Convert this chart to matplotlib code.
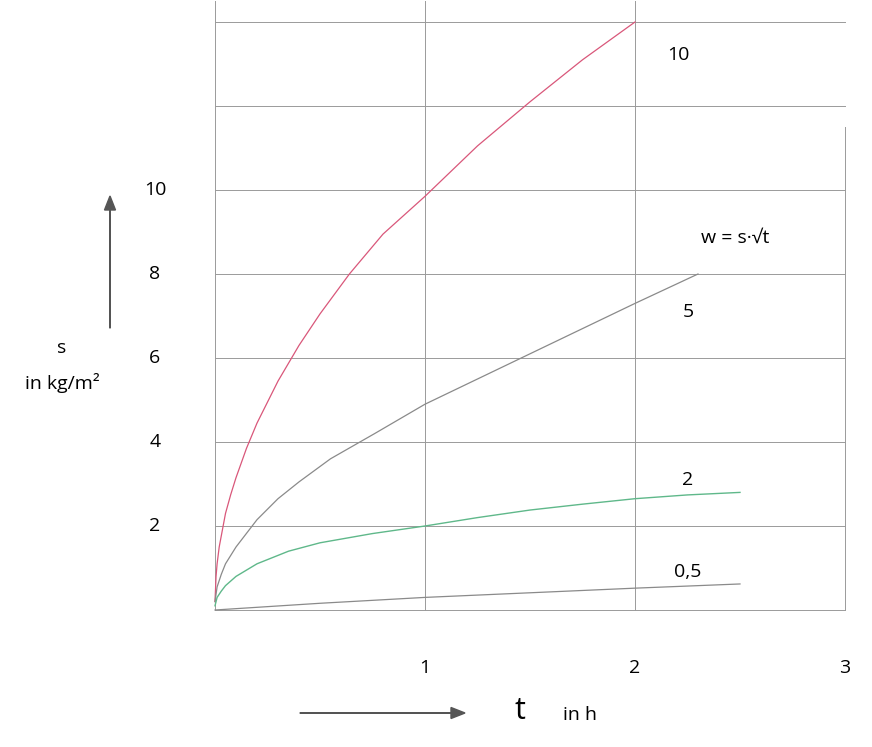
import matplotlib
matplotlib.use("Agg")
import matplotlib.pyplot as plt

plt.rcParams['font.family'] = ['Open Sans', 'DejaVu Sans']

# curves
t10 = [0, 0.005, 0.01, 0.02, 0.035, 0.05, 0.075, 0.1, 0.15, 0.2, 0.3, 0.4, 0.5, 0.64, 0.8, 1.0, 1.25, 1.5, 1.75, 2.0]
s10 = [0.2, 0.8, 1.1, 1.5, 1.9, 2.3, 2.75, 3.15, 3.85, 4.45, 5.45, 6.3, 7.05, 8.0, 8.95, 9.85, 11.05, 12.1, 13.1, 14.0]
t5 = [0, 0.01, 0.03, 0.05, 0.1, 0.2, 0.3, 0.4, 0.55, 0.76, 1.0, 1.25, 1.5, 1.75, 2.0, 2.3]
s5 = [0.2, 0.55, 0.85, 1.1, 1.5, 2.15, 2.65, 3.05, 3.6, 4.2, 4.9, 5.5, 6.1, 6.7, 7.3, 8.0]
t2 = [0, 0.01, 0.03, 0.05, 0.1, 0.2, 0.35, 0.5, 0.75, 1.0, 1.25, 1.5, 1.75, 2.0, 2.25, 2.5]
s2 = [0.1, 0.3, 0.45, 0.58, 0.8, 1.1, 1.4, 1.6, 1.82, 2.0, 2.2, 2.38, 2.52, 2.65, 2.74, 2.8]
t05 = [0, 0.5, 1.0, 1.5, 2.0, 2.5]
s05 = [0, 0.16, 0.3, 0.41, 0.52, 0.62]

y_ticks = [2, 4, 6, 8, 10]
x_ticks = [1, 2, 3]
curve_labels = ["10", "5", "2", "0,5"]

W, H = 872, 747
fig = plt.figure(figsize=(W/100, H/100), dpi=100)
ax = fig.add_axes([215/W, 1-610/H, 630/W, 588/H])
ax.set_xlim(0, 3)
ax.set_ylim(0, 14)
ax.axis('off')

gc = '#9a9a9a'
for y in [0] + y_ticks + [12, 14]:
    ax.plot([0, 3], [y, y], color=gc, lw=0.7, clip_on=False)
for x in [0, 1, 2]:
    ax.plot([x, x], [0, 14.5], color=gc, lw=0.7, clip_on=False)
ax.plot([3, 3], [0, 11.5], color=gc, lw=0.7, clip_on=False)

ax.plot(t10, s10, color='#d9577a', lw=0.9, clip_on=False)
ax.plot(t5, s5, color='#8a8a8a', lw=0.9, clip_on=False)
ax.plot(t2, s2, color='#5fb88a', lw=1.0, clip_on=False)
ax.plot(t05, s05, color='#8a8a8a', lw=0.9, clip_on=False)

fs = 14
for y in y_ticks:
    fig.text(155/W, 1-(610-42*y)/H, str(y), fontsize=fs, ha='center', va='center')
for x in x_ticks:
    fig.text((215+210*x)/W, 1-668/H, str(x), fontsize=fs, ha='center', va='center')

pos = [(678, 55), (688, 312), (688, 480), (688, 572)]
for lab, (px, py) in zip(curve_labels, pos):
    fig.text(px/W, 1-py/H, lab, fontsize=fs, ha='center', va='center')
fig.text(735/W, 1-238/H, "w = s·√t", fontsize=fs, ha='center', va='center')

fig.text(62/W, 1-348/H, "s", fontsize=fs, ha='center', va='center')
fig.text(62/W, 1-383/H, "in kg/m²", fontsize=fs, ha='center', va='center')
fig.text(520/W, 1-711/H, "t", fontsize=22, ha='center', va='center')
fig.text(580/W, 1-715/H, "in h", fontsize=fs, ha='center', va='center')

fig.patches.append(matplotlib.patches.FancyArrow(110/W, 1-328/H, 0, 118/H, width=0.0005,
    head_width=11/W, head_length=14/H, color='#555', transform=fig.transFigure))
fig.patches.append(matplotlib.patches.FancyArrow(300/W, 1-713/H, 165/W, 0, width=0.0005,
    head_width=11/H, head_length=14/W, color='#555', transform=fig.transFigure, length_includes_head=True))

fig.savefig('out.png', dpi=100, facecolor='white')
